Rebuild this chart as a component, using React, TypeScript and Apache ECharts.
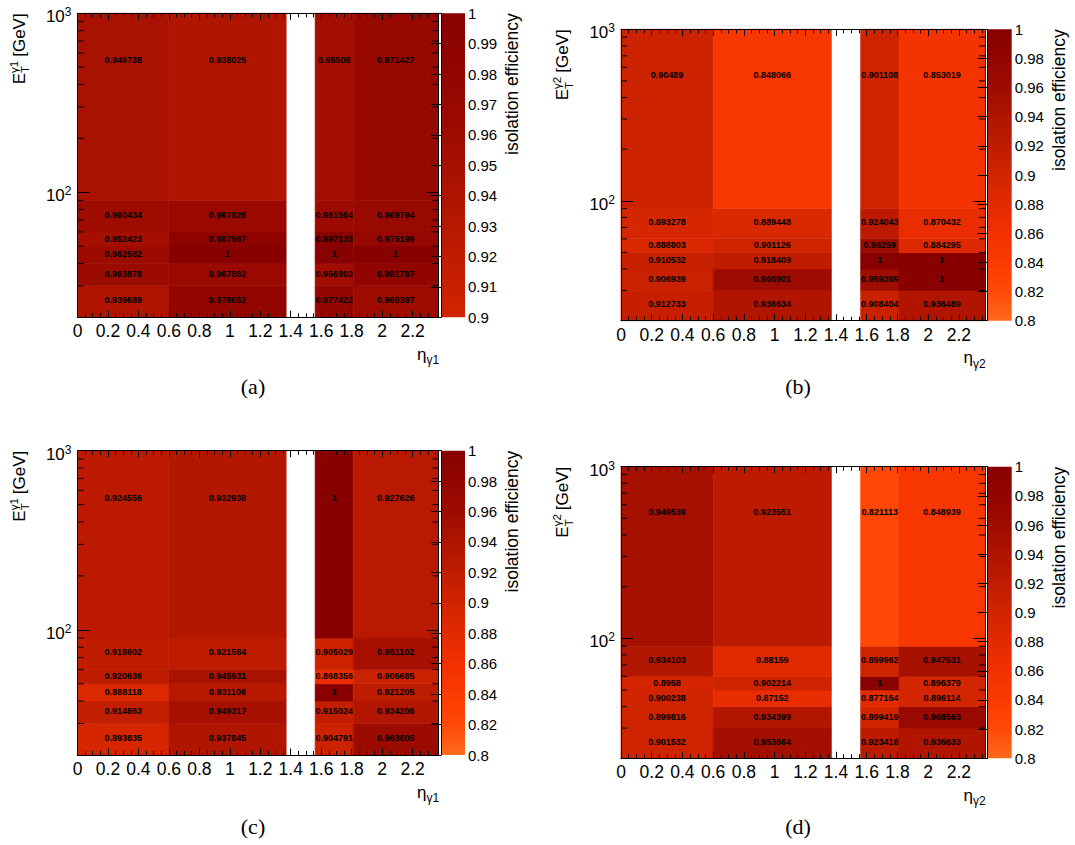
import React, { useEffect, useRef } from 'react';
import * as echarts from 'echarts';

// pseudorapidity bin edges (1.37-1.56 is the crack: no data)
const xEdges = [0, 0.6, 1.37, 1.56, 1.81, 2.37];
const filledColumns = [0, 1, 3, 4];
// transverse-energy bin edges [GeV]
const yEdges = [20, 30, 40, 50, 60, 90, 1000];
const xMax = 2.37;

// rows: E_T bins from low to high; columns: [0,0.6], [0.6,1.37], [1.56,1.81], [1.81,2.37]
const effA = [
  [0.939689, 0.978052, 0.977422, 0.960397],
  [0.963878, 0.967862, 0.956802, 0.981787],
  [0.962582, 1, 1, 1],
  [0.952423, 0.987967, 0.997135, 0.975199],
  [0.960434, 0.967826, 0.961564, 0.969794],
  [0.946738, 0.938025, 0.95508, 0.971427],
];
const effB = [
  [0.912733, 0.936634, 0.908404, 0.936489],
  [0.906939, 0.960901, 0.959369, 1],
  [0.910532, 0.918409, 1, 1],
  [0.888803, 0.901126, 0.96259, 0.884295],
  [0.893278, 0.889448, 0.924043, 0.870432],
  [0.90489, 0.848066, 0.901108, 0.853019],
];
const effC = [
  [0.893835, 0.937845, 0.904791, 0.963805],
  [0.914863, 0.949317, 0.915024, 0.934206],
  [0.888118, 0.931106, 1, 0.921205],
  [0.920636, 0.945931, 0.868356, 0.906685],
  [0.918602, 0.921584, 0.905029, 0.951102],
  [0.924556, 0.932938, 1, 0.927626],
];
const effD = [
  [0.901532, 0.953664, 0.923418, 0.936633],
  [0.899816, 0.934399, 0.899419, 0.968563],
  [0.900238, 0.87152, 0.877164, 0.896114],
  [0.8958, 0.902214, 1, 0.896379],
  [0.934103, 0.88159, 0.899962, 0.947531],
  [0.949539, 0.923551, 0.821113, 0.848939],
];

// palette colours at efficiency 0.80, 0.82, ..., 1.00
const palette = [
  '#ff6a1c', '#ff4906', '#fb3a00', '#f23000', '#e22a00', '#d02400',
  '#bf1c00', '#ae1400', '#9e0c00', '#920500', '#880000',
];
const yMinorTicks = [30, 40, 50, 60, 70, 80, 90, 200, 300, 400, 500, 600, 700, 800, 900];

const FONT = 'Liberation Sans';

const panels = [
  { label: '(a)', eff: effA, zMin: 0.9, zMax: 1, zStep: 0.01, colors: palette.slice(5), g: '1',
    L: 77.5, T: 13.3, R: 438.5, B: 317.3, cbL: 441, cbR: 465, cap: [253, 386] },
  { label: '(b)', eff: effB, zMin: 0.8, zMax: 1, zStep: 0.02, colors: palette, g: '2',
    L: 621, T: 29.3, R: 985, B: 320.7, cbL: 987.7, cbR: 1011.7, cap: [798, 386] },
  { label: '(c)', eff: effC, zMin: 0.8, zMax: 1, zStep: 0.02, colors: palette, g: '1',
    L: 77.5, T: 450.7, R: 438.5, B: 755, cbL: 441, cbR: 465, cap: [253, 826] },
  { label: '(d)', eff: effD, zMin: 0.8, zMax: 1, zStep: 0.02, colors: palette, g: '2',
    L: 621, T: 466.7, R: 985, B: 758.3, cbL: 987.7, cbR: 1011.7, cap: [798, 826] },
];

const cellData = (eff: number[][]) =>
  eff.flatMap((row, r) =>
    row.map((v, k) => {
      const c = filledColumns[k];
      return [xEdges[c], xEdges[c + 1], yEdges[r], yEdges[r + 1], v];
    })
  );

const cellRender = (_params: any, api: any) => {
  const x0 = api.value(0), x1 = api.value(1), y0 = api.value(2), y1 = api.value(3);
  const v = api.value(4);
  const tl = api.coord([x0, y1]);
  const br = api.coord([x1, y0]);
  const c = api.coord([(x0 + x1) / 2, (y0 + y1) / 2]);
  const fill = api.visual('color');
  return {
    type: 'group',
    children: [
      { type: 'rect', shape: { x: tl[0], y: tl[1], width: br[0] - tl[0], height: br[1] - tl[1] },
        style: { fill, stroke: fill, lineWidth: 0.6 } },
      { type: 'text', x: c[0], y: c[1],
        style: { text: String(v), fill: '#000', fontSize: 9, fontWeight: 'bold', fontFamily: FONT, align: 'center', verticalAlign: 'middle' } },
    ],
  };
};

const minorRender = (_params: any, api: any) => {
  const v = api.value(1);
  const l = api.coord([0, v]);
  const r = api.coord([xMax, v]);
  return {
    type: 'group',
    children: [
      { type: 'line', shape: { x1: l[0], y1: l[1], x2: l[0] + 6, y2: l[1] }, style: { stroke: '#000', lineWidth: 1 } },
      { type: 'line', shape: { x1: r[0], y1: r[1], x2: r[0] - 6, y2: r[1] }, style: { stroke: '#000', lineWidth: 1 } },
    ],
  };
};

function buildOption() {
  const grid: any[] = [];
  const xAxis: any[] = [];
  const yAxis: any[] = [];
  const series: any[] = [];
  const visualMap: any[] = [];
  const graphics: any[] = [];
  const black = { color: '#000', width: 1 };

  panels.forEach((p) => {
    grid.push({ left: p.L, top: p.T, width: p.R - p.L, height: p.B - p.T });
  });
  panels.forEach((p) => {
    grid.push({ left: p.cbL, top: p.T, width: p.cbR - p.cbL, height: p.B - p.T });
  });

  panels.forEach((p, i) => {
    const xBase = {
      gridIndex: i, type: 'value', min: 0, max: xMax, interval: 0.2, z: 6,
      axisLine: { show: true, onZero: false, lineStyle: black },
      axisTick: { show: true, inside: true, length: 6.5, lineStyle: black },
      minorTick: { show: true, splitNumber: 4, length: 4, lineStyle: black },
      splitLine: { show: false },
      minorSplitLine: { show: false },
    };
    xAxis.push({ ...xBase, position: 'bottom',
      axisLabel: { show: true, color: '#000', fontSize: 17.5, fontFamily: FONT, margin: 5, showMaxLabel: false } });
    xAxis.push({ ...xBase, position: 'top', axisLabel: { show: false } });

    const yBase = {
      gridIndex: i, type: 'log', logBase: 10, min: 20, max: 1000, z: 6,
      axisLine: { show: true, onZero: false, lineStyle: black },
      axisTick: { show: true, inside: true, length: 12, lineStyle: black },
      splitLine: { show: false },
    };
    yAxis.push({ ...yBase, position: 'left',
      axisLabel: {
        show: true, margin: 6, showMinLabel: false, padding: [7, 0, 0, 0],
        formatter: (v: number) => {
          const e = Math.log10(v);
          if (Math.abs(e - Math.round(e)) > 1e-6) return '';
          return `{b|10}{s|${Math.round(e)}}`;
        },
        rich: {
          b: { fontSize: 17, fontFamily: FONT, color: '#000', lineHeight: 21 },
          s: { fontSize: 12, fontFamily: FONT, color: '#000', lineHeight: 12, verticalAlign: 'top' },
        },
      } });
    yAxis.push({ ...yBase, position: 'right', axisLabel: { show: false } });
  });

  panels.forEach((p, i) => {
    xAxis.push({ gridIndex: 4 + i, type: 'value', min: 0, max: 1, show: false });
    yAxis.push({
      gridIndex: 4 + i, type: 'value', min: p.zMin, max: p.zMax, interval: p.zStep, position: 'right', z: 6,
      axisLine: { show: true, lineStyle: black },
      axisTick: { show: true, inside: true, length: 10, lineStyle: black },
      axisLabel: { show: true, color: '#000', fontSize: 15, fontFamily: FONT, margin: 3 },
      splitLine: { show: false },
    });
  });

  panels.forEach((p, i) => {
    const cellIdx = series.length;
    series.push({
      type: 'custom', name: 'cells' + i, coordinateSystem: 'cartesian2d',
      xAxisIndex: 2 * i, yAxisIndex: 2 * i, z: 2,
      encode: { x: [0, 1], y: [2, 3] },
      renderItem: cellRender, data: cellData(p.eff),
    });
    visualMap.push({
      type: 'continuous', show: false, min: p.zMin, max: p.zMax, dimension: 4,
      seriesIndex: cellIdx, inRange: { color: p.colors },
    });
    series.push({
      type: 'custom', name: 'minor' + i, coordinateSystem: 'cartesian2d',
      xAxisIndex: 2 * i, yAxisIndex: 2 * i, z: 7,
      encode: { x: 0, y: 1 },
      renderItem: minorRender, data: yMinorTicks.map((v) => [0, v]),
    });
    series.push({
      type: 'custom', name: 'palette' + i, coordinateSystem: 'cartesian2d',
      xAxisIndex: 8 + i, yAxisIndex: 8 + i, z: 2,
      encode: { x: [0, 2], y: [1, 3] },
      renderItem: (_pp: any, api: any) => {
        const a = api.coord([api.value(0), api.value(3)]);
        const b = api.coord([api.value(2), api.value(1)]);
        const n = p.colors.length;
        return {
          type: 'rect',
          shape: { x: a[0], y: a[1], width: b[0] - a[0], height: b[1] - a[1] },
          style: {
            fill: {
              type: 'linear', x: 0, y: 1, x2: 0, y2: 0,
              colorStops: p.colors.map((c, k) => ({ offset: k / (n - 1), color: c })),
            },
          },
        };
      },
      data: [[0, p.zMin, 1, p.zMax]],
    });

    // y-axis title  E_T^{γ} [GeV]
    graphics.push({
      type: 'group', x: p.L - 52.5, y: p.T + 71, rotation: Math.PI / 2,
      children: [
        { type: 'text', x: 0, y: -6, style: { text: 'E', fontSize: 17, fontFamily: FONT, fill: '#000', align: 'left', verticalAlign: 'middle' } },
        { type: 'text', x: 11.4, y: 0.3, style: { text: 'T', fontSize: 11.5, fontFamily: FONT, fill: '#000', align: 'left', verticalAlign: 'middle' } },
        { type: 'text', x: 11.4, y: -11.5, style: { text: 'γ' + p.g, fontSize: 11.5, fontFamily: FONT, fill: '#000', align: 'left', verticalAlign: 'middle' } },
        { type: 'text', x: 27.5, y: -6, style: { text: '[GeV]', fontSize: 17, fontFamily: FONT, fill: '#000', align: 'left', verticalAlign: 'middle' } },
      ],
    });
    // x-axis title η_{γ}
    graphics.push({ type: 'text', x: p.R - 12, y: p.B + 37,
      style: { text: 'η', fontSize: 17, fontFamily: FONT, fill: '#000', align: 'right', verticalAlign: 'middle' } });
    graphics.push({ type: 'text', x: p.R - 12, y: p.B + 43,
      style: { text: 'γ' + p.g, fontSize: 12, fontFamily: FONT, fill: '#000', align: 'left', verticalAlign: 'middle' } });
    // colour-bar title
    graphics.push({ type: 'text', x: p.cbR + 47.4, y: p.T, rotation: Math.PI / 2,
      style: { text: 'isolation efficiency', fontSize: 17.5, fontFamily: FONT, fill: '#000', align: 'right', verticalAlign: 'middle' } });
    // sub-figure caption
    graphics.push({ type: 'text', x: p.cap[0], y: p.cap[1],
      style: { text: p.label, fontSize: 22, fontFamily: 'Liberation Serif', fill: '#000', align: 'center', verticalAlign: 'middle' } });
  });

  return {
    animation: false,
    backgroundColor: '#fff',
    textStyle: { fontFamily: FONT },
    grid, xAxis, yAxis, series, visualMap,
    graphic: { elements: graphics },
  };
}

export default function App() {
  const ref = useRef<HTMLDivElement>(null);
  useEffect(() => {
    if (!ref.current) return;
    const chart = echarts.init(ref.current, undefined, { renderer: 'svg' });
    chart.setOption(buildOption() as any);
    return () => chart.dispose();
  }, []);
  return (
    <div
      ref={ref}
      style={{ position: 'fixed', left: 0, top: 0, width: 1075, height: 845, background: '#fff' }}
    />
  );
}
